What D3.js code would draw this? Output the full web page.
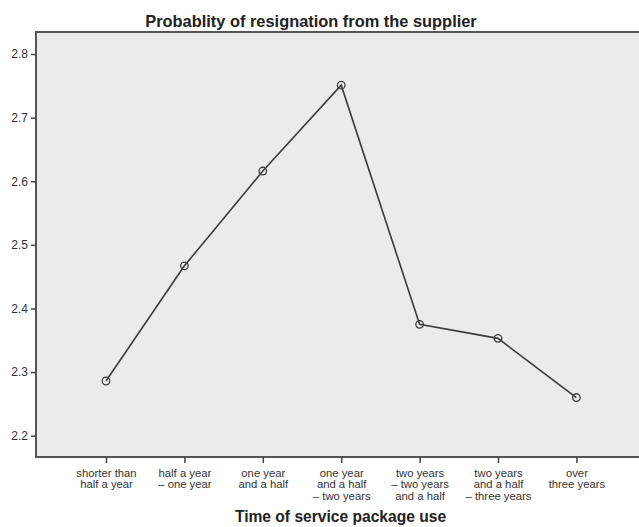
<!DOCTYPE html>
<html><head><meta charset="utf-8">
<script src="https://cdn.jsdelivr.net/npm/d3@7/dist/d3.min.js"></script>
<style>
html,body{margin:0;padding:0;background:#fff;}
svg{display:block;font-family:"Liberation Sans",Arial,sans-serif;}
</style></head>
<body>
<svg id="c" width="639" height="527"></svg>
<script>
const title = "Probablity of resignation from the supplier";
const xTitle = "Time of service package use";
const categories = [
  ["shorter than","half a year"],
  ["half a year","– one year"],
  ["one year","and a half"],
  ["one year","and a half","– two years"],
  ["two years","– two years","and a half"],
  ["two years","and a half","– three years"],
  ["over","three years"]
];
const values = [2.286, 2.467, 2.616, 2.751, 2.375, 2.353, 2.26];
const yTicks = [2.2, 2.3, 2.4, 2.5, 2.6, 2.7, 2.8];

(function(){
const svg = d3.select("#c");
const mLeft = 36, mTop = 32, mBottom = 457, mRight = 645;
const keys = categories.map((d,i)=>i);
const x = d3.scalePoint().domain(keys).range([106, 576.4]);
const y = d3.scaleLinear().domain([2.2, 2.8]).range([435.7, 54]);

// plot background
svg.append("rect").attr("x", mLeft).attr("y", mTop)
  .attr("width", mRight-mLeft).attr("height", mBottom-mTop)
  .attr("fill", "#ebebed").attr("stroke", "#555").attr("stroke-width", 2);

// y axis
const ya = svg.append("g").attr("transform", `translate(${mLeft},0)`)
  .call(d3.axisLeft(y).tickValues(yTicks).tickFormat(d3.format(".1f")).tickSize(5).tickPadding(3));
ya.select(".domain").remove();
ya.selectAll("line").attr("stroke", "#444").attr("stroke-width", 1.5);
ya.selectAll("text").attr("fill", "#333").attr("font-size", "12px").attr("font-family", "Liberation Sans, Arial, sans-serif");

// x axis
const xa = svg.append("g").attr("transform", `translate(0,${mBottom})`)
  .call(d3.axisBottom(x).tickSize(6).tickFormat(""));
xa.select(".domain").remove();
xa.selectAll("line").attr("stroke", "#444").attr("stroke-width", 1.5);
xa.selectAll(".tick").each(function(d){
  const t = d3.select(this).append("text")
    .attr("fill", "#333").attr("font-size", "11.3px").attr("text-anchor", "middle")
    .attr("font-family", "Liberation Sans, Arial, sans-serif")
    .attr("y", 19.7);
  categories[d].forEach((s,j)=>{
    t.append("tspan").attr("x", 0).attr("dy", j===0 ? 0 : 11.7).text(s);
  });
});

// line
const line = d3.line().x((d,i)=>x(i)).y(d=>y(d));
svg.append("path").datum(values).attr("d", line)
  .attr("fill", "none").attr("stroke", "#3c3c3c").attr("stroke-width", 1.6);
svg.selectAll("circle.pt").data(values).join("circle").attr("class","pt")
  .attr("cx", (d,i)=>x(i)).attr("cy", d=>y(d)).attr("r", 3.8)
  .attr("fill", "none").attr("stroke", "#3c3c3c").attr("stroke-width", 1.3);

// titles
svg.append("text").attr("x", 311).attr("y", 26.5).attr("text-anchor", "middle")
  .attr("font-size", "16.4px").attr("font-weight", "bold").attr("fill", "#222").text(title);
svg.append("text").attr("x", 340.5).attr("y", 522).attr("text-anchor", "middle")
  .attr("font-size", "15.6px").attr("font-weight", "bold").attr("fill", "#222").text(xTitle);
})();
</script>
</body></html>
